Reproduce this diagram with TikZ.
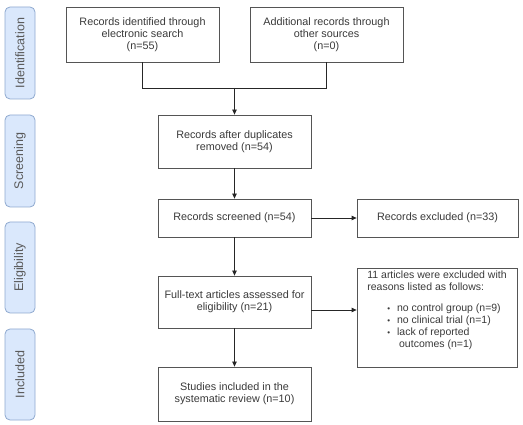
\documentclass[tikz,border=0pt]{standalone}
\usepackage{fontspec}
\setmainfont{Liberation Sans}
\usetikzlibrary{arrows.meta,calc}
\definecolor{txt}{HTML}{3A3A3A}
\definecolor{edge}{HTML}{555555}
\definecolor{phasefill}{HTML}{DAE8FC}
\definecolor{phaseedge}{HTML}{8FA9CF}
\tikzset{
  box/.style={draw=edge, line width=0.8pt, fill=white, text=txt, align=center,
    inner sep=2pt, font=\fontsize{10.8}{12}\selectfont},
  phase/.style={draw=phaseedge, line width=0.8pt, fill=phasefill, rounded corners=5pt,
    minimum width=30pt},
  phasetext/.style={rotate=90, text=black!65, font=\fontsize{12.5}{14}\selectfont},
  conn/.style={draw=black!85, line width=0.8pt},
  arr/.style={conn, -{Triangle[length=5pt,width=4.5pt]}}
}
\begin{document}
\begin{tikzpicture}[x=1pt,y=-1pt]
\useasboundingbox (0,0) rectangle (523,425);
% phase labels
\node[phase, minimum height=92pt] (pid) at (20,53) {};
\node[phasetext] (tid) at (pid.center) {Identification};
\node[phase, minimum height=92pt] (psc) at (20,161) {};
\node[phasetext] (tsc) at (psc.center) {Screening};
\node[phase, minimum height=91pt] (pel) at (20,267.5) {};
\node[phasetext] (tel) at (pel.center) {Eligibility};
\node[phase, minimum height=91pt] (pin) at (20,374.5) {};
\node[phasetext] (tin) at (pin.center) {Included};
% boxes
\node[box, minimum width=153pt, minimum height=55pt] (b1) at (142.5,34.5) {Records identified through\\electronic search\\(n=55)};
\node[box, minimum width=153pt, minimum height=55pt] (b2) at (326.5,34.5) {Additional records through\\other sources\\(n=0)};
\node[box, minimum width=153pt, minimum height=53pt] (b3) at (234.5,141.5) {Records after duplicates\\removed (n=54)};
\node[box, minimum width=153pt, minimum height=38pt] (b4) at (234.5,218) {Records screened (n=54)};
\node[box, minimum width=161pt, minimum height=38pt] (b5) at (437.5,218) {Records excluded (n=33)};
\node[box, minimum width=153pt, minimum height=52pt] (b6) at (234.5,302) {Full-text articles assessed for\\eligibility (n=21)};
\node[box, minimum width=160pt, minimum height=99pt, align=left, font=\fontsize{10.5}{12}\selectfont] (b7) at (437,317.5) {11 articles were excluded with\\reasons listed as follows:\\[9pt]
\hspace*{20pt}{\footnotesize\textbullet}\hspace{7pt}no control group (n=9)\\
\hspace*{20pt}{\footnotesize\textbullet}\hspace{7pt}no clinical trial (n=1)\\
\hspace*{20pt}{\footnotesize\textbullet}\hspace{7pt}lack of reported\\
\hspace*{31.8pt}outcomes (n=1)\\[4pt]};
\node[box, minimum width=153pt, minimum height=54pt] (b8) at (234.5,394) {Studies included in the\\systematic review (n=10)};
% connectors
\coordinate (m) at (234.5,88);
\draw[conn] (b1.south) -- (b1.south |- m) -- (b2.south |- m) -- (b2.south);
\draw[arr] (m) -- (b3.north);
\draw[arr] (b3.south) -- (b4.north);
\draw[arr] (b4.east) -- (b5.west);
\draw[arr] (b4.south) -- (b6.north);
\draw[arr] ([yshift=-8pt]b6.east) -- ([yshift=-8pt]b6.east -| b7.west);
\draw[arr] (b6.south) -- (b8.north);
\end{tikzpicture}
\end{document}
